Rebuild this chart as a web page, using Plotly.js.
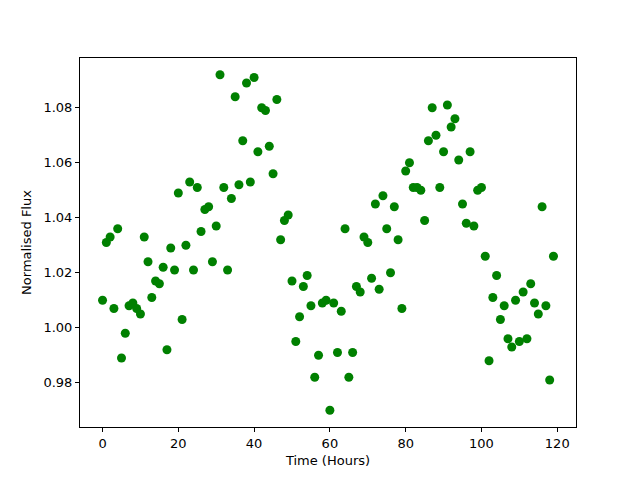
<!DOCTYPE html>
<html>
<head>
<meta charset="utf-8">
<script src="https://cdn.plot.ly/plotly-3.0.1.min.js"></script>
<style>html,body{margin:0;padding:0;background:#fff}#chart{width:640px;height:480px}</style>
</head>
<body>
<div id="chart"></div>
<script>
const timeHours = Array.from({length: 120}, (_, i) => i);
const normalisedFlux = [
 1.010, 1.031, 1.033, 1.007, 1.036, 0.989, 0.998, 1.008, 1.009, 1.007,
 1.005, 1.033, 1.024, 1.011, 1.017, 1.016, 1.022, 0.992, 1.029, 1.021,
 1.049, 1.003, 1.030, 1.053, 1.021, 1.051, 1.035, 1.043, 1.044, 1.024,
 1.037, 1.092, 1.051, 1.021, 1.047, 1.084, 1.052, 1.068, 1.089, 1.053,
 1.091, 1.064, 1.080, 1.079, 1.066, 1.056, 1.083, 1.032, 1.039, 1.041,
 1.017, 0.995, 1.004, 1.015, 1.019, 1.008, 0.982, 0.990, 1.009, 1.010,
 0.970, 1.009, 0.991, 1.006, 1.036, 0.982, 0.991, 1.015, 1.013, 1.033,
 1.031, 1.018, 1.045, 1.014, 1.048, 1.036, 1.020, 1.044, 1.032, 1.007,
 1.057, 1.060, 1.051, 1.051, 1.050, 1.039, 1.068, 1.080, 1.070, 1.051,
 1.064, 1.081, 1.073, 1.076, 1.061, 1.045, 1.038, 1.064, 1.037, 1.050,
 1.051, 1.026, 0.988, 1.011, 1.019, 1.003, 1.008, 0.996, 0.993, 1.010,
 0.995, 1.013, 0.996, 1.016, 1.009, 1.005, 1.044, 1.008, 0.981, 1.026
];
const xTickVals = [0, 20, 40, 60, 80, 100, 120];
const yTickVals = [0.98, 1.00, 1.02, 1.04, 1.06, 1.08];

const font = {family: 'DejaVu Sans', size: 13, color: '#000'};
const axisCommon = {
  showline: true, mirror: true, linecolor: '#000', linewidth: 1,
  ticks: 'outside', ticklen: 4, tickwidth: 1, tickcolor: '#000',
  showgrid: false, zeroline: false, tickfont: font
};
Plotly.newPlot('chart', [{
  x: timeHours, y: normalisedFlux, type: 'scatter', mode: 'markers',
  marker: {color: '#008000', size: 9}
}], {
  width: 640, height: 480,
  margin: {l: 80, r: 64, t: 58, b: 53},
  paper_bgcolor: '#fff', plot_bgcolor: '#fff',
  font: font, showlegend: false,
  xaxis: Object.assign({}, axisCommon, {
    range: [-5.95, 124.95], tickvals: xTickVals,
    title: {text: 'Time (Hours)', font: font, standoff: 6}
  }),
  yaxis: Object.assign({}, axisCommon, {
    range: [0.9639, 1.0981], tickvals: yTickVals, tickformat: '.2f',
    title: {text: 'Normalised Flux', font: font, standoff: 8}
  })
}, {staticPlot: true});
</script>
</body>
</html>
